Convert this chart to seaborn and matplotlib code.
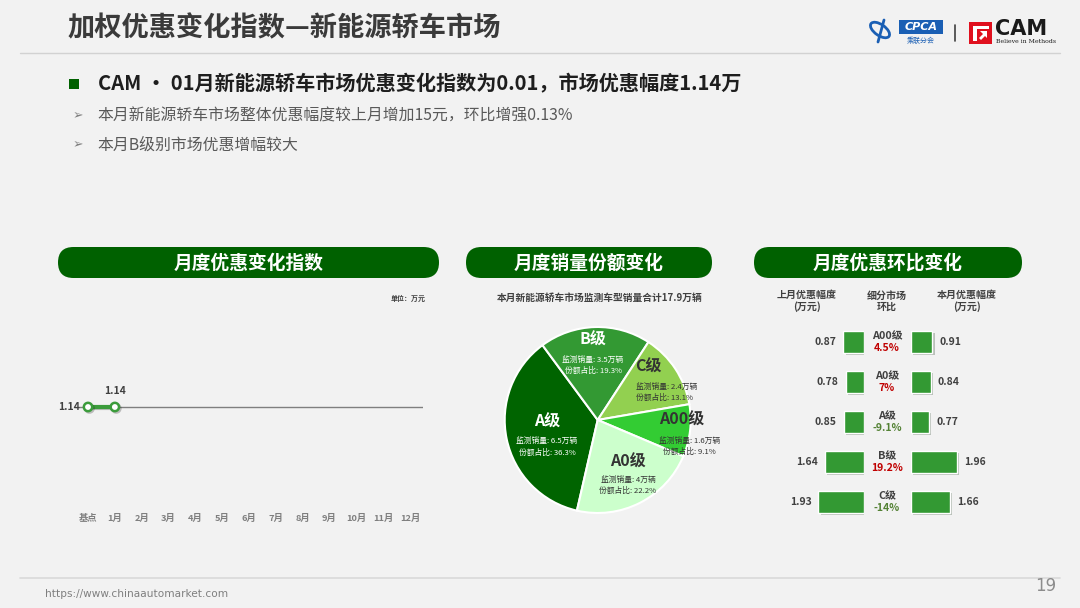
import numpy as np
import pandas as pd
import matplotlib
matplotlib.use("Agg")
import matplotlib.pyplot as plt
import matplotlib.patheffects as pe
from matplotlib.patches import FancyBboxPatch, Rectangle, Polygon, Ellipse
import seaborn as sns

# ---------------- data ----------------
months = ["基点", "1月", "2月", "3月", "4月", "5月", "6月",
          "7月", "8月", "9月", "10月", "11月", "12月"]
index_values = [1.14, 1.14]          # 基点, 1月 (万元)

seg_names = ["A级", "B级", "C级", "A00级", "A0级"]
seg_sales = [6.5, 3.5, 2.4, 1.6, 4.0]      # 万辆
seg_share = [36.3, 19.3, 13.1, 9.1, 22.2]  # %
total_sales = 17.9

mom_names = ["A00级", "A0级", "A级", "B级", "C级"]
last_month = [0.87, 0.78, 0.85, 1.64, 1.93]   # 万元
this_month = [0.91, 0.84, 0.77, 1.96, 1.66]   # 万元
mom_change = [4.5, 7, -9.1, 19.2, -14]        # %

# ---------------- style ----------------
sns.set_theme(style="white")
plt.rcParams['font.family'] = ['Noto Sans CJK SC', 'DejaVu Sans']
plt.rcParams['axes.unicode_minus'] = False

W, H = 1080, 608
BG = '#f2f2f2'
DARK_GREEN = '#006100'
BAR_GREEN = '#339933'
LINE_GREEN = '#3b9c3b'
TXT = '#404040'

fig = plt.figure(figsize=(W / 100, H / 100), dpi=100, facecolor=BG)

bg = fig.add_axes([0, 0, 1, 1])
bg.set_xlim(0, W)
bg.set_ylim(H, 0)
bg.axis('off')


def area(x0, y0, x1, y1):
    ax = fig.add_axes([x0 / W, 1 - y1 / H, (x1 - x0) / W, (y1 - y0) / H])
    ax.patch.set_alpha(0)
    return ax


# ---------------- header ----------------
bg.text(68, 28, "加权优惠变化指数—新能源轿车市场", fontsize=19.6, weight='bold',
        color='#3a3a3a', va='center')
bg.plot([20, 1060], [53, 53], color='#d2d2d2', lw=1)

# logos (rough)
bg.add_patch(Ellipse((880, 30), 22, 11, angle=35, fill=False, ec='#1a5fb4', lw=2))
bg.plot([884, 878], [20, 42], color='#1a5fb4', lw=2)
bg.add_patch(Rectangle((899, 20), 44, 14, fc='#1a5fb4', ec='none'))
bg.text(921, 27, "CPCA", color='white', fontsize=8, style='italic', weight='bold',
        ha='center', va='center', family=['DejaVu Sans'])
bg.text(921, 40.5, "乘联分会", color='#1a5fb4', fontsize=5, ha='center', va='center')
bg.plot([955, 955], [25, 41], color='#404040', lw=1.2)
bg.add_patch(Rectangle((969, 22), 23, 22, fc='#e0101e', ec='none'))
bg.add_patch(Polygon([(973, 26), (989, 26), (989, 29), (977, 29), (977, 41), (973, 41)],
                     fc='white', ec='none'))
bg.add_patch(Polygon([(980, 31), (987, 31), (987, 38), (985, 36), (981, 40), (979, 38),
                      (983, 34)], fc='white', ec='none'))
bg.text(995, 29, "CAM", fontsize=15, weight='bold', color='#1a1a1a', va='center',
        family=['DejaVu Sans'])
bg.text(996, 41.5, "Believe in Methods", fontsize=4.5, color='#1a1a1a', va='center',
        family=['DejaVu Serif'])

# bullets
bg.add_patch(Rectangle((69, 79), 10, 10, fc=DARK_GREEN, ec='none'))
bg.text(98, 84, "CAM • 01月新能源轿车市场优惠变化指数为0.01，市场优惠幅度1.14万",
        fontsize=14.5, weight='bold', color='#1e1e1e', va='center')
for y, s in [(116, "本月新能源轿车市场整体优惠幅度较上月增加15元，环比增强0.13%"),
             (145, "本月B级别市场优惠增幅较大")]:
    bg.text(73, y, "➢", fontsize=9, color='#7f7f7f', va='center', family=['DejaVu Sans'])
    bg.text(97, y, s, fontsize=11.4, color='#595959', va='center')

# footer
bg.plot([20, 1060], [578, 578], color='#d9d9d9', lw=1.2)
bg.text(45, 594, "https://www.chinaautomarket.com", fontsize=7.6, color='#7f7f7f',
        va='center', family=['Liberation Sans Narrow', 'DejaVu Sans'])
bg.text(1056, 586, "19", fontsize=12, color='#8c8c8c', ha='right', va='center',
        family=['Liberation Sans Narrow', 'DejaVu Sans'])

# panel pills
for (x0, x1), title in [((58, 439), "月度优惠变化指数"),
                        ((466, 712), "月度销量份额变化"),
                        ((754, 1022), "月度优惠环比变化")]:
    bg.add_patch(FancyBboxPatch((x0, 247), x1 - x0, 31,
                                boxstyle="round,pad=0,rounding_size=15.5",
                                fc=DARK_GREEN, ec='none'))
    bg.text((x0 + x1) / 2, 263, title, fontsize=13.5, weight='bold', color='white',
            ha='center', va='center')

# ---------------- line chart ----------------
ax1 = area(74.6, 300, 423.4, 503.8)
ax1.axhline(index_values[0], color='#7f7f7f', lw=1, zorder=1)
sns.lineplot(x=list(range(len(index_values))), y=index_values, ax=ax1,
             color=LINE_GREEN, lw=3, marker='o', markersize=6,
             markerfacecolor='white', markeredgecolor=LINE_GREEN,
             markeredgewidth=1.8, zorder=3,
             path_effects=[pe.SimpleLineShadow(offset=(1, -1), alpha=0.25), pe.Normal()])
ax1.set_xlim(-0.5, 12.5)
ax1.set_ylim(0, 2.4)
ax1.set_xticks(range(len(months)))
ax1.set_xticklabels(months)
ax1.set_yticks([])
ax1.set_xlabel("")
ax1.set_ylabel("")
for s in ax1.spines.values():
    s.set_visible(False)
ax1.tick_params(axis='x', length=0, pad=7, labelsize=6.7, labelcolor='#7f7f7f')
for t in ax1.get_xticklabels():
    t.set_fontweight('bold')
ax1.annotate(f"{index_values[0]:.2f}", xy=(0, index_values[0]), xytext=(-6, 0),
             textcoords='offset points', ha='right', va='center', fontsize=7.5,
             weight='bold', color=TXT)
for i, v in enumerate(index_values[1:], start=1):
    ax1.annotate(f"{v:.2f}", xy=(i, v), xytext=(0, 11.5), textcoords='offset points',
                 ha='center', va='center', fontsize=7.5, weight='bold', color=TXT)
bg.text(426, 298, "单位：万元", fontsize=5, weight='bold', color=TXT, ha='right', va='center')

# ---------------- pie chart ----------------
bg.text(600, 298, f"本月新能源轿车市场监测车型销量合计{total_sales:g}万辆", fontsize=7,
        weight='bold', color=TXT, ha='center', va='center')
cx, cy, r = 597.7, 420, 93
ax2 = area(cx - 100, cy - 100, cx + 100, cy + 100)
pie_colors = ['#006400', '#339933', '#92d050', '#33cc33', '#ccffcc']
ax2.pie(seg_share, colors=pie_colors, startangle=257.1, counterclock=False, radius=1,
        wedgeprops=dict(edgecolor='white', linewidth=1.5))
lim = 100 / r
ax2.set_xlim(-lim, lim)
ax2.set_ylim(-lim, lim)
ax2.set_aspect('equal')
ax2.axis('off')

# label anchor positions in pie units: (name x, name y, sub x, sub y, sub align)
label_pos = [(-0.545, -0.02, -0.545, -0.29, 'center'),
             (-0.05, 0.86, -0.05, 0.585, 'center'),
             (0.54, 0.57, 0.41, 0.295, 'left'),
             (0.905, 0.0, 0.99, -0.285, 'center'),
             (0.325, -0.45, 0.325, -0.705, 'center')]
label_colors = ['white', 'white', '#333333', '#333333', '#333333']
for name, sales, share, (nx, ny, sx, sy, al), c in zip(seg_names, seg_sales, seg_share,
                                                       label_pos, label_colors):
    ax2.text(nx, ny, name, fontsize=11.5, weight='bold', color=c, ha='center', va='center')
    ax2.text(sx, sy, f"监测销量: {sales:g}万辆\n份额占比: {share:.1f}%", fontsize=5.6,
             color=c, ha=al, va='center', linespacing=1.5)

# ---------------- month-on-month bars ----------------
for x, s in [(807, "上月优惠幅度\n(万元)"), (887, "细分市场\n环比"), (967, "本月优惠幅度\n(万元)")]:
    bg.text(x, 301, s, fontsize=7.2, weight='bold', color=TXT, ha='center', va='center',
            linespacing=1.1)

scale = 23.6
axL = area(864 - 2.3 * scale, 322, 864, 522)
axR = area(911, 322, 911 + 2.3 * scale, 522)
shadow = [pe.SimplePatchShadow(offset=(1.5, -1.5), alpha=0.25), pe.Normal()]
for ax, vals in [(axL, last_month), (axR, this_month)]:
    sns.barplot(x=vals, y=mom_names, orient='h', color=BAR_GREEN, saturation=1,
                width=0.55, ax=ax)
    for p in ax.patches:
        p.set_path_effects(shadow)
    ax.set_ylim(len(mom_names) - 0.5, -0.5)
    ax.axis('off')
axL.set_xlim(2.3, 0)
axR.set_xlim(0, 2.3)

for i, (a, b, ch, nm) in enumerate(zip(last_month, this_month, mom_change, mom_names)):
    axL.annotate(f"{a:.2f}", xy=(a, i), xytext=(-5, 0), textcoords='offset points',
                 ha='right', va='center', fontsize=7.5, weight='bold', color=TXT)
    axR.annotate(f"{b:.2f}", xy=(b, i), xytext=(5, 0), textcoords='offset points',
                 ha='left', va='center', fontsize=7.5, weight='bold', color=TXT)
    axL.annotate(nm, xy=(0, i), xytext=(16.6, 4.3), textcoords='offset points',
                 ha='center', va='center', fontsize=7.8, weight='bold', color=TXT,
                 annotation_clip=False)
    axL.annotate(f"{ch:g}%", xy=(0, i), xytext=(16.6, -4.5), textcoords='offset points',
                 ha='center', va='center', fontsize=7.5, weight='bold',
                 color='#c00000' if ch > 0 else '#548235', annotation_clip=False)

fig.savefig("out.png", dpi=100, facecolor=BG)
